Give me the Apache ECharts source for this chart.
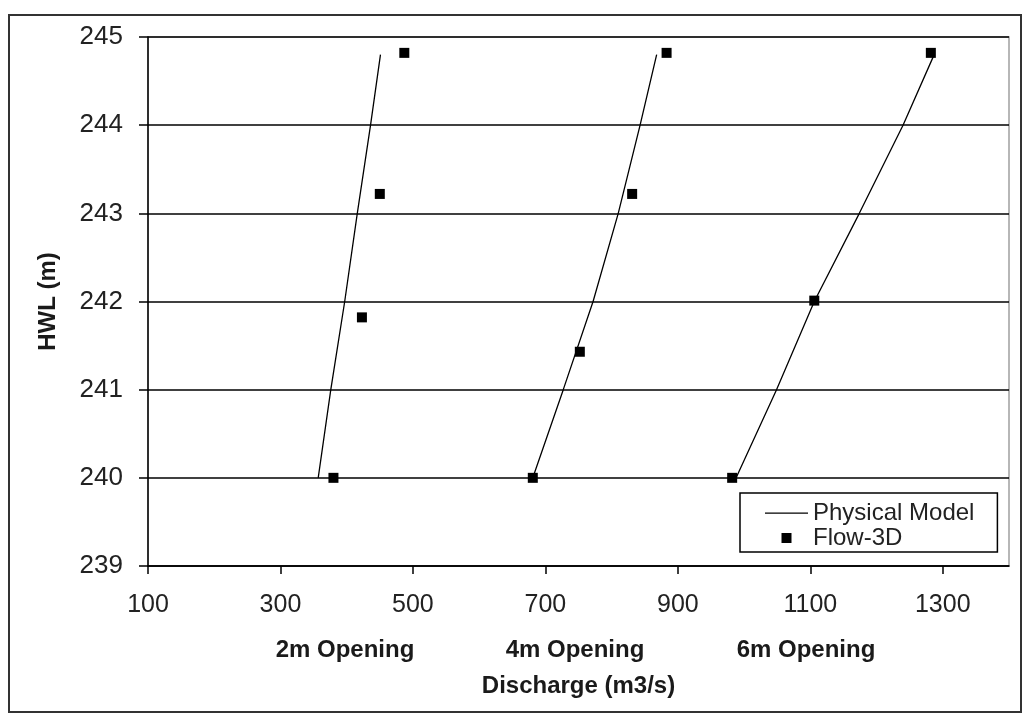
<!DOCTYPE html>
<html>
<head>
<meta charset="utf-8">
<script src="https://cdn.jsdelivr.net/npm/echarts@6/dist/echarts.min.js"></script>
<style>
html,body{margin:0;padding:0;background:#fff;}
#chart{width:1030px;height:722px;}
</style>
</head>
<body>
<div id="chart"></div>
<script>
// ---- data ----
const hwlPhys = [240, 241, 242, 243, 244, 244.8];
const phys2m = [357, 376, 397, 416, 436, 451];
const phys4m = [681, 727, 772, 810, 843, 868];
const phys6m = [988, 1049, 1106, 1174, 1240, 1287];

const flow2mQ = [380, 423, 450, 487];
const flow2mH = [240, 241.82, 243.22, 244.82];
const flow4mQ = [681, 752, 831, 883];
const flow4mH = [240, 241.43, 243.22, 244.82];
const flow6mQ = [982, 1106, 1282];
const flow6mH = [240, 242.01, 244.82];

const openingLabels = ['2m Opening', '4m Opening', '6m Opening'];
const xTitle = 'Discharge (m3/s)';
const yTitle = 'HWL (m)';
const legendNames = ['Physical Model', 'Flow-3D'];

// ---- build ----
const FONT = 'Liberation Sans, Arial, sans-serif';
const pair = (xs, ys) => xs.map((x, i) => [x, ys[i]]);
const physSeries = [phys2m, phys4m, phys6m].map(q => ({
  name: legendNames[0],
  type: 'line',
  data: pair(q, hwlPhys),
  symbol: 'none',
  lineStyle: { color: '#000', width: 1.3 },
  itemStyle: { color: '#000' },
  z: 3
}));
const flowData = [].concat(pair(flow2mQ, flow2mH), pair(flow4mQ, flow4mH), pair(flow6mQ, flow6mH));

const openingX = [345, 575, 806];
const titles = openingLabels.map((t, i) => ({
  text: t,
  left: openingX[i],
  top: 638,
  textAlign: 'center',
  padding: 0,
  textStyle: { fontFamily: FONT, fontSize: 24, fontWeight: 'bold', color: '#1a1a1a' }
}));

const chart = echarts.init(document.getElementById('chart'), null, { renderer: 'canvas' });
chart.setOption({
  animation: false,
  backgroundColor: '#fff',
  title: titles,
  grid: {
    left: 148, top: 37, right: 21, bottom: 156,
    show: true, borderColor: '#a0a0a0', borderWidth: 1.5, backgroundColor: 'transparent'
  },
  xAxis: {
    type: 'value', min: 100, max: 1400, interval: 200,
    name: xTitle, nameLocation: 'middle', nameGap: 108,
    nameTextStyle: { fontFamily: FONT, fontSize: 24, fontWeight: 'bold', color: '#1a1a1a' },
    axisLine: { show: true, lineStyle: { color: '#000', width: 1.5 } },
    axisTick: { show: true, inside: false, length: 8, lineStyle: { color: '#000', width: 1.5 } },
    axisLabel: { fontFamily: FONT, fontSize: 25, color: '#222', margin: 27, showMaxLabel: false,
      formatter: v => String(v) },
    splitLine: { show: false }
  },
  yAxis: {
    type: 'value', min: 239, max: 245, interval: 1,
    name: yTitle, nameLocation: 'middle', nameGap: 88, nameRotate: 90,
    nameTextStyle: { fontFamily: FONT, fontSize: 24, fontWeight: 'bold', color: '#1a1a1a' },
    axisLine: { show: true, lineStyle: { color: '#000', width: 1.5 } },
    axisTick: { show: true, inside: false, length: 9, lineStyle: { color: '#000', width: 1.5 } },
    axisLabel: { fontFamily: FONT, fontSize: 26, color: '#222', margin: 25, formatter: v => String(v) },
    splitLine: { show: true, lineStyle: { color: '#000', width: 1.5 } }
  },
  legend: {
    orient: 'vertical',
    left: 740, top: 493,
    data: [
      { name: legendNames[0], icon: 'path://M0,0M43,11M0,5h43v1.3h-43z', itemStyle: { color: '#000', borderWidth: 0 } },
      { name: legendNames[1], icon: 'path://M0,0M43,11M16.5,0.5h10v10h-10z', itemStyle: { color: '#000', borderWidth: 0 } }
    ],
    backgroundColor: '#fff',
    borderColor: '#000', borderWidth: 1.5, borderRadius: 0,
    padding: [8, 23, 2, 25],
    itemWidth: 43, itemHeight: 11, itemGap: 1,
    textStyle: { fontFamily: FONT, fontSize: 24, color: '#222', lineHeight: 22 }
  },
  graphic: [{
    type: 'rect',
    shape: { x: 9, y: 15, width: 1012, height: 697 },
    style: { fill: 'none', stroke: '#333', lineWidth: 2 },
    silent: true, z: -10
  }],
  series: physSeries.concat([{
    name: legendNames[1],
    type: 'scatter',
    data: flowData,
    symbol: 'rect',
    symbolSize: 10,
    itemStyle: { color: '#000', opacity: 1 },
    z: 4
  }])
});
</script>
</body>
</html>
